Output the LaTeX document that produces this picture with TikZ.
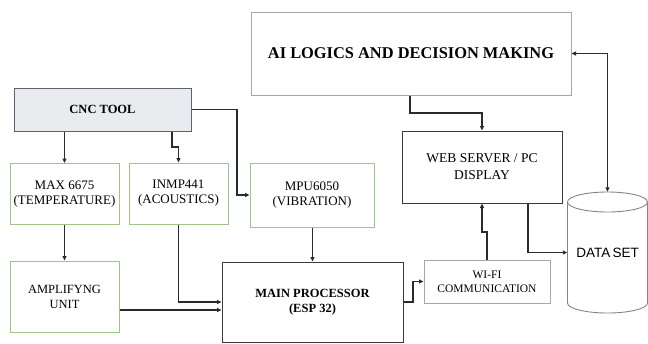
\documentclass[tikz,border=0pt]{standalone}
\usepackage{fontspec}
\setmainfont{Liberation Serif}
\newfontfamily\arialf{Liberation Sans}
\usetikzlibrary{arrows.meta}
\definecolor{boxgreen}{HTML}{9CC68A}
\definecolor{cncfill}{HTML}{E9EBEF}
\definecolor{cncdraw}{HTML}{5A6170}
\definecolor{lightgrey}{HTML}{A6A6A6}
\definecolor{cylgrey}{HTML}{858585}
\definecolor{darkline}{HTML}{3A3A3A}
\definecolor{arrcol}{HTML}{2B2B2B}
\begin{document}
\begin{tikzpicture}[x=1pt,y=-1pt,
  base/.style={rectangle, inner sep=0pt, align=center, line width=1pt, font=\fontsize{13}{15}\selectfont},
  greenbox/.style={base, draw=boxgreen},
  darkbox/.style={base, draw=darkline},
  greybox/.style={base, draw=lightgrey},
  cyl/.style={draw=cylgrey, line width=0.9pt},
  arr/.style={draw=arrcol, line width=1.2pt, -{Triangle[length=4.5pt,width=4pt]}},
  arrboth/.style={draw=arrcol, line width=1.2pt, {Triangle[length=4.5pt,width=4pt]}-{Triangle[length=4.5pt,width=4pt]}}
]
\useasboundingbox (0,0) rectangle (648,343);

\node[base, draw=cncdraw, fill=cncfill, minimum width=177pt, minimum height=43pt, font=\fontsize{12.5}{15}\selectfont\bfseries] (cnc) at (102.5,109.5) {CNC TOOL};
\node[greenbox, minimum width=109pt, minimum height=61pt] (max) at (64.5,194) {MAX 6675\\(TEMPERATURE)};
\node[greenbox, minimum width=99pt, minimum height=61pt] (inmp) at (178.5,193.5) {INMP441\\(ACOUSTICS)};
\node[greenbox, minimum width=124pt, minimum height=64pt] (mpu) at (312,195) {MPU6050\\(VIBRATION)};
\node[greenbox, minimum width=109pt, minimum height=71pt, font=\fontsize{12.5}{15}\selectfont] (amp) at (64.5,296.5) {AMPLIFYNG\\UNIT};
\node[darkbox, minimum width=181pt, minimum height=80pt, font=\fontsize{12.5}{15}\selectfont\bfseries] (main) at (312.5,302) {MAIN PROCESSOR\\(ESP 32)};
\node[greybox, minimum width=126pt, minimum height=43pt, font=\fontsize{11.5}{14}\selectfont] (wifi) at (487,281.5) {WI-FI\\COMMUNICATION};
\node[darkbox, minimum width=160pt, minimum height=72pt, font=\fontsize{13.5}{17}\selectfont] (web) at (482,167) {WEB SERVER / PC\\DISPLAY};
\node[greybox, minimum width=320pt, minimum height=83pt, font=\fontsize{16.4}{19}\selectfont\bfseries] (ai) at (411,53.5) {AI LOGICS AND DECISION MAKING};

% data set cylinder
\node[inner sep=0pt, minimum width=80pt, minimum height=121pt, font=\arialf\fontsize{13.5}{15}\selectfont] (ds) at (607.5,252.5) {DATA\,SET};
\draw[cyl] (607.5,202) ellipse[x radius=40, y radius=10];
\draw[cyl] (567.5,202) -- (567.5,303) arc[start angle=180, end angle=0, x radius=40, y radius=10] -- (647.5,202);

% connectors
\draw[arr] (cnc.south -| max.north) -- (max.north);
\draw[arr] (172,0 |- cnc.south) -- (172,147) -- (178.5,147) -- (inmp.north);
\draw[arr] (cnc.east) -- (237,109.5) -- (237,195) -- (mpu.west);
\draw[arr] (max.south) -- (amp.north);
\draw[arr] (inmp.south) |- (main.west);
\draw[arr] (amp.east |- 0,310) -- (main.west |- 0,310);
\draw[arr] (mpu.south -| main.north) -- (main.north);
\draw[arr] (main.east) -- (413,302) |- (wifi.west);
\draw[arr] (wifi.north) -- (487,232) -- (482,232) -- (web.south);
\draw[arr] (528,0 |- web.south) |- (ds.west);
\draw[arr] (410,0 |- ai.south) -- (410,113) -| (web.north);
\draw[arrboth] (ds.north) |- (ai.east);
\end{tikzpicture}
\end{document}
